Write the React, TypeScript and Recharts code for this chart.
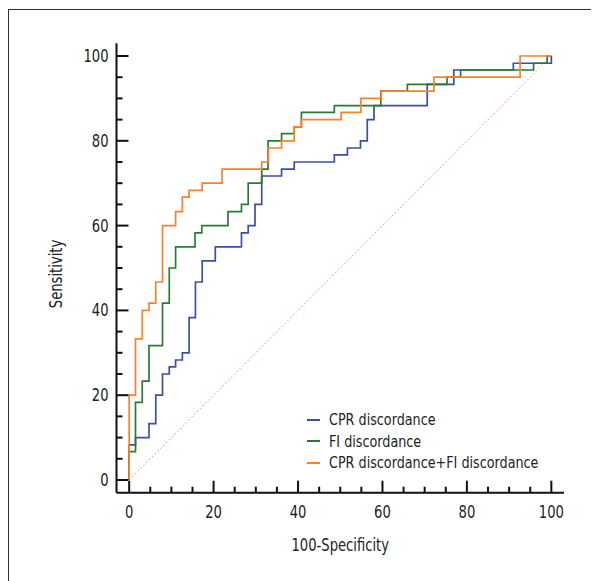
import { Label, Legend, Line, LineChart, XAxis, YAxis } from "recharts"

const FONT = "'Liberation Sans Narrow', 'DejaVu Sans Condensed', 'Arial Narrow', sans-serif"
const SQUEEZE = 0.86

// ROC step points: (100-specificity, sensitivity) at each jump
const cprFpr = [0, 0, 1.5, 4.7, 6.3, 7.9, 9.5, 11, 12.6, 14.2, 15.7, 17.3, 20.4, 26.6, 28.2, 29.8, 31.4, 36.1, 39.1, 48.6, 51.7, 54.8, 56.4, 58, 70.6, 76.9, 91, 100]
const cprSens = [0, 8.3, 10, 13.3, 20, 25, 26.7, 28.3, 30, 38.3, 46.7, 51.7, 55, 58.3, 60, 65, 71.7, 73.3, 75, 76.7, 78.3, 80, 85, 88.3, 93.3, 96.7, 98.3, 100]

const fiFpr = [0, 0, 1.5, 3.1, 4.7, 7.9, 9.5, 11, 15.6, 17.2, 23.4, 26.6, 28.2, 31.4, 32.9, 36.1, 39.1, 40.8, 48.6, 59.6, 65.9, 75.3, 78.5, 95.8, 99, 100]
const fiSens = [0, 6.7, 18.3, 23.3, 31.7, 41.7, 50, 55, 58.3, 60, 63.3, 65, 70, 73.3, 80, 81.7, 83.3, 86.7, 88.3, 91.7, 93.3, 95, 96.7, 98.3, 100, 100]

const comboFpr = [0, 0, 1.5, 3.1, 4.7, 6.3, 7.9, 11, 12.6, 14.2, 17.3, 22, 31.4, 33, 36.1, 39.1, 40.8, 50.2, 54.9, 59.7, 72.2, 92.6, 100]
const comboSens = [0, 20, 33.3, 40, 41.7, 46.7, 60, 63.3, 66.7, 68.3, 70, 73.3, 75, 78.3, 80, 83.3, 85, 86.7, 90, 91.7, 95, 100, 100]

const diagX = [0, 100]
const diagY = [0, 100]

const axisTicks = [0, 5, 10, 15, 20, 25, 30, 35, 40, 45, 50, 55, 60, 65, 70, 75, 80, 85, 90, 95, 100]

const seriesNames = ["CPR discordance", "FI discordance", "CPR discordance+FI discordance"]
const seriesColors = ["#3c4fa3", "#2a7a36", "#ff7f2a"]

const zip = (xs: number[], ys: number[]) => xs.map((x, i) => ({ x, y: ys[i] }))

const cprData = zip(cprFpr, cprSens)
const fiData = zip(fiFpr, fiSens)
const comboData = zip(comboFpr, comboSens)
const diagData = zip(diagX, diagY)

// condensed text: draw at origin and squeeze along the reading direction
function NarrowText({ x, y, anchor, rotate = 0, size = 17, children }: any) {
  return (
    <text
      transform={`translate(${x}, ${y}) rotate(${rotate}) scale(${SQUEEZE}, 1)`}
      textAnchor={anchor}
      fontSize={size}
      fill="#222"
      fontFamily={FONT}
    >
      {children}
    </text>
  )
}

function YTick(props: any) {
  const { x, y, payload } = props
  const v = payload.value
  const major = v % 20 === 0
  return (
    <g>
      <line x1={x} x2={x + (major ? 12 : 6)} y1={y} y2={y} stroke="#111" strokeWidth={2} />
      {major && (
        <NarrowText x={x - 8} y={y + 6} anchor="end">
          {v}
        </NarrowText>
      )}
    </g>
  )
}

function XTick(props: any) {
  const { x, y, payload } = props
  const v = payload.value
  const major = v % 20 === 0
  return (
    <g>
      <line x1={x} x2={x} y1={y} y2={y - (major ? 12 : 6)} stroke="#111" strokeWidth={2} />
      {major && (
        <NarrowText x={x} y={y + 25} anchor="middle">
          {v}
        </NarrowText>
      )}
    </g>
  )
}

function renderLegend() {
  return (
    <div style={{ fontFamily: FONT, fontSize: 16.5, color: "#222" }}>
      {seriesNames.map((name, i) => (
        <div key={name} style={{ display: "flex", alignItems: "center", height: 21.5 }}>
          <svg width={22} height={4} style={{ flex: "none" }}>
            <line x1={0} x2={13} y1={2} y2={2} stroke={seriesColors[i]} strokeWidth={2} />
          </svg>
          <span
            style={{
              whiteSpace: "nowrap",
              display: "inline-block",
              transform: `scaleX(${SQUEEZE})`,
              transformOrigin: "left center",
            }}
          >
            {name}
          </span>
        </div>
      ))}
    </div>
  )
}

export default function App() {
  return (
    <div style={{ position: "relative", width: 591, height: 573 }}>
      <div
        style={{
          position: "absolute",
          left: 0,
          top: 1,
          width: 591,
          height: 572,
          borderTop: "1.5px solid #333",
          borderLeft: "1.5px solid #333",
          boxSizing: "border-box",
        }}
      />
      <div style={{ position: "absolute", left: 0, top: 0 }}>
        <LineChart width={591} height={573} margin={{ top: 35.3, right: 35, bottom: 28.3, left: 0 }}>
          <XAxis
            dataKey="x"
            type="number"
            domain={[-3, 103]}
            ticks={axisTicks}
            interval={0}
            allowDataOverflow
            height={60}
            tickSize={0}
            tickMargin={0}
            tick={<XTick />}
            axisLine={{ stroke: "#111", strokeWidth: 2 }}
          >
            <Label
              content={(p: any) => {
                const vb = p.viewBox
                return (
                  <NarrowText x={vb.x + vb.width / 2} y={vb.y + 58} anchor="middle">
                    100-Specificity
                  </NarrowText>
                )
              }}
            />
          </XAxis>
          <YAxis
            dataKey="y"
            type="number"
            domain={[-3, 103]}
            ticks={axisTicks}
            interval={0}
            allowDataOverflow
            width={108.5}
            tickSize={0}
            tickMargin={0}
            tick={<YTick />}
            axisLine={{ stroke: "#111", strokeWidth: 2 }}
          >
            <Label
              content={(p: any) => {
                const vb = p.viewBox
                return (
                  <NarrowText x={vb.x + vb.width - 54.5} y={vb.y + vb.height / 2 + 6} anchor="middle" rotate={-90}>
                    Sensitivity
                  </NarrowText>
                )
              }}
            />
          </YAxis>
          <Legend
            layout="vertical"
            align="center"
            verticalAlign="middle"
            content={renderLegend}
            wrapperStyle={{ left: 299, top: 401, width: 280 }}
          />
          <Line
            data={diagData}
            dataKey="y"
            type="linear"
            stroke="#f09a9a"
            strokeWidth={1}
            strokeDasharray="2 2"
            dot={false}
            activeDot={false}
            legendType="none"
            isAnimationActive={false}
          />
          <Line data={cprData} dataKey="y" name={seriesNames[0]} type="stepAfter" stroke={seriesColors[0]} strokeWidth={1.7} dot={false} activeDot={false} isAnimationActive={false} />
          <Line data={fiData} dataKey="y" name={seriesNames[1]} type="stepAfter" stroke={seriesColors[1]} strokeWidth={1.7} dot={false} activeDot={false} isAnimationActive={false} />
          <Line data={comboData} dataKey="y" name={seriesNames[2]} type="stepAfter" stroke={seriesColors[2]} strokeWidth={1.7} dot={false} activeDot={false} isAnimationActive={false} />
        </LineChart>
      </div>
    </div>
  )
}
